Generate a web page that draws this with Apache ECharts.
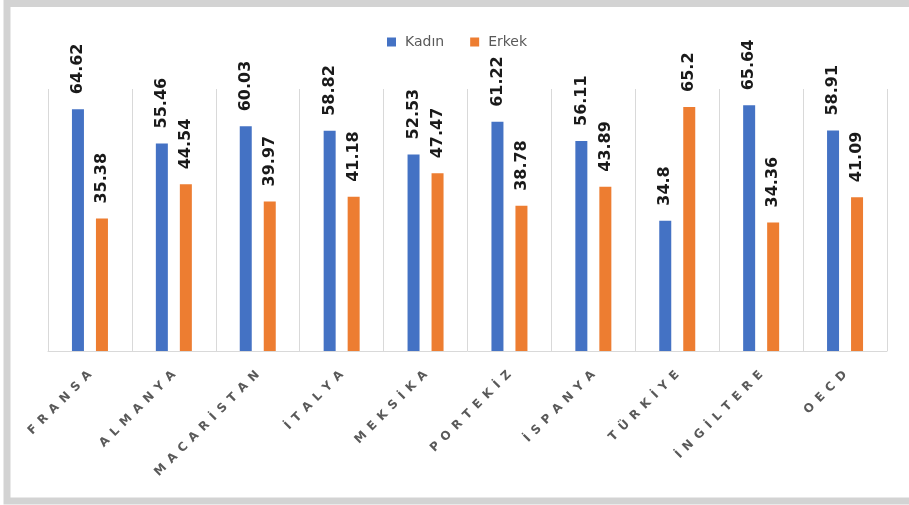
<!DOCTYPE html>
<html>
<head>
<meta charset="utf-8">
<script src="https://cdn.jsdelivr.net/npm/echarts@6/dist/echarts.min.js"></script>
<style>
  html, body { margin: 0; padding: 0; background: #fff; }
  #chart { width: 909px; height: 505px; }
</style>
</head>
<body>
<div id="chart"></div>
<script>
var countries = ['FRANSA', 'ALMANYA', 'MACARİSTAN', 'İTALYA', 'MEKSİKA', 'PORTEKİZ', 'İSPANYA', 'TÜRKİYE', 'İNGİLTERE', 'OECD'];
var kadin = [64.62, 55.46, 60.03, 58.82, 52.53, 61.22, 56.11, 34.8, 65.64, 58.91];
var erkek = [35.38, 44.54, 39.97, 41.18, 47.47, 38.78, 43.89, 65.2, 34.36, 41.09];

var chartDom = document.getElementById('chart');
var myChart = echarts.init(chartDom);

function barLabel() {
  return {
    show: true,
    position: 'insideBottom',
    rotate: 90,
    align: 'left',
    verticalAlign: 'middle',
    fontFamily: 'DejaVu Sans',
    fontSize: 16,
    fontWeight: 'bold',
    color: '#1a1a1a'
  };
}

// put the rotated value just above the bar top
function aboveBar(p) {
  return { y: p.rect.y - 15, rotate: 90 };
}

var option = {
  animation: false,
  graphic: [
    {
      type: 'rect',
      shape: { x: 7, y: 3.5, width: 920, height: 497.5 },
      style: { fill: 'none', stroke: '#d3d3d3', lineWidth: 7 },
      silent: true
    }
  ],
  legend: {
    left: 382,
    top: 30,
    itemWidth: 9,
    itemHeight: 9,
    itemGap: 26,
    icon: 'rect',
    textStyle: { color: '#595959', fontSize: 14, fontFamily: 'DejaVu Sans', padding: [0, 0, 0, 4] }
  },
  grid: { left: 48, right: 22, top: 89, bottom: 154 },
  xAxis: {
    type: 'category',
    data: countries,
    axisLine: { lineStyle: { color: '#d9d9d9' } },
    axisTick: { show: false },
    splitLine: { show: true, lineStyle: { color: '#d9d9d9' } },
    axisLabel: {
      rotate: 45,
      margin: 22,
      interval: 0,
      fontFamily: 'DejaVu Sans',
      fontSize: 12,
      fontWeight: 'bold',
      color: '#595959',
      formatter: function (v) { return v.split('').join('\u2002'); }
    }
  },
  yAxis: {
    type: 'value',
    min: 0,
    max: 70,
    show: false,
    splitLine: { show: false }
  },
  series: [
    {
      name: 'Kadın',
      type: 'bar',
      data: kadin,
      barWidth: 12,
      barGap: '100%',
      itemStyle: { color: '#4472C4' },
      label: barLabel(),
      labelLayout: aboveBar
    },
    {
      name: 'Erkek',
      type: 'bar',
      data: erkek,
      barWidth: 12,
      itemStyle: { color: '#ED7D31' },
      label: barLabel(),
      labelLayout: aboveBar
    }
  ]
};

myChart.setOption(option);
window.addEventListener('resize', () => myChart.resize());
</script>
</body>
</html>
